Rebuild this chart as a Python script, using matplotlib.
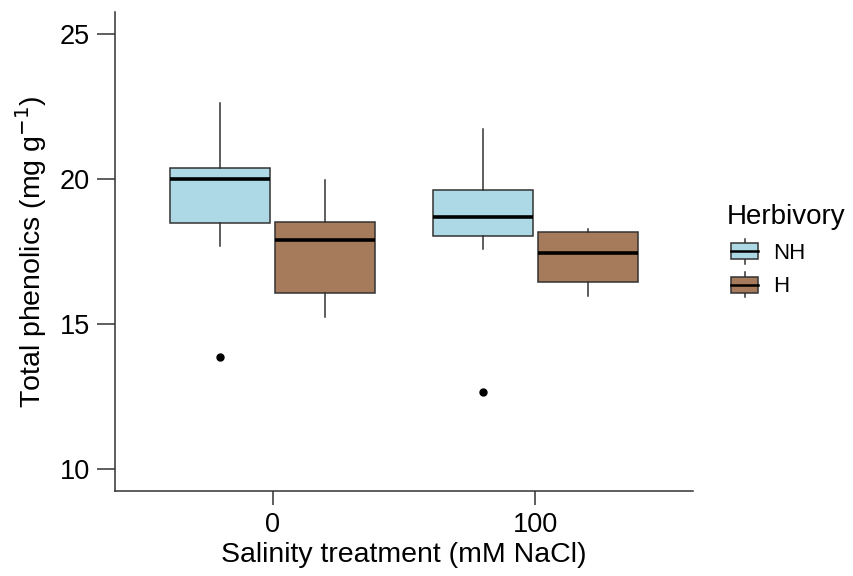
import matplotlib
matplotlib.use("Agg")
import matplotlib.pyplot as plt
from matplotlib.patches import Rectangle
from matplotlib.lines import Line2D
from matplotlib.legend_handler import HandlerBase

plt.rcParams['font.family'] = ['Liberation Sans', 'DejaVu Sans']

# data (mg g-1)
salinity = ['0', '100']
groups = ['NH', 'H']
colors = {'NH': '#ADD8E6', 'H': '#A67B5B'}

nh_whislo = [17.70, 17.59]
nh_q1 = [18.47, 18.02]
nh_med = [20.00, 18.70]
nh_q3 = [20.39, 19.63]
nh_whishi = [22.62, 21.72]
nh_fliers = [[13.87], [12.67]]

h_whislo = [15.24, 15.98]
h_q1 = [16.07, 16.46]
h_med = [17.90, 17.44]
h_q3 = [18.52, 18.16]
h_whishi = [19.97, 18.29]
h_fliers = [[], []]

edge = '#333333'


def make_stats(whislo, q1, med, q3, whishi, fliers):
    out = []
    for i in range(len(med)):
        out.append(dict(whislo=whislo[i], q1=q1[i], med=med[i], q3=q3[i],
                        whishi=whishi[i], fliers=fliers[i]))
    return out


class BoxHandler(HandlerBase):
    # small boxplot glyph for the legend keys
    def create_artists(self, legend, orig_handle, xdescent, ydescent,
                       width, height, fontsize, trans):
        fc = orig_handle.get_facecolor()
        bw = width * 0.78
        x0 = xdescent + (width - bw) / 2
        bh = height * 0.66
        y0 = -ydescent + (height - bh) / 2
        wl = height * 0.17
        cx = x0 + bw / 2
        art = []
        art.append(Line2D([cx, cx], [y0 - wl, y0], color=edge, lw=1.1, transform=trans))
        art.append(Line2D([cx, cx], [y0 + bh, y0 + bh + wl], color=edge, lw=1.1, transform=trans))
        art.append(Rectangle((x0, y0), bw, bh, facecolor=fc, edgecolor=edge, lw=1.1, transform=trans))
        art.append(Line2D([x0, x0 + bw], [y0 + bh / 2, y0 + bh / 2], color='black', lw=1.8, transform=trans))
        return art


fig = plt.figure(figsize=(8.54, 5.76), dpi=100)
ax = fig.add_axes([0.1347, 0.1476, 0.8115 - 0.1347, 0.979 - 0.1476])

base = [1, 2]
offsets = {'NH': -0.2, 'H': 0.2}
stats = {'NH': make_stats(nh_whislo, nh_q1, nh_med, nh_q3, nh_whishi, nh_fliers),
         'H': make_stats(h_whislo, h_q1, h_med, h_q3, h_whishi, h_fliers)}

for g in groups:
    pos = [b + offsets[g] for b in base]
    ax.bxp(stats[g], positions=pos, widths=0.38, patch_artist=True,
           showcaps=False,
           boxprops=dict(facecolor=colors[g], edgecolor=edge, linewidth=1.1),
           whiskerprops=dict(color=edge, linewidth=1.1),
           medianprops=dict(color='black', linewidth=2.6),
           flierprops=dict(marker='o', markerfacecolor='black', markeredgecolor='black',
                           markersize=5))

ax.set_xlim(0.4, 2.6)
ax.set_ylim(9.24, 25.76)
ax.set_xticks(base)
ax.set_xticklabels(salinity)
ax.set_yticks([10, 15, 20, 25])

for s in ['top', 'right']:
    ax.spines[s].set_visible(False)
for s in ['left', 'bottom']:
    ax.spines[s].set_color(edge)
    ax.spines[s].set_linewidth(1.1)

ax.tick_params(axis='y', length=13, width=1.1, color=edge, labelsize=19.5, pad=5)
ax.tick_params(axis='x', length=10, width=1.1, color=edge, labelsize=19.5, pad=5)

ax.set_xlabel('Salinity treatment (mM NaCl)', fontsize=20.5, labelpad=3)
ax.set_ylabel('Total phenolics (mg g$^{-1}$)', fontsize=20.5, labelpad=8)

handles = [Rectangle((0, 0), 1, 1, facecolor=colors[g]) for g in groups]
leg = fig.legend(handles, groups, title='Herbivory', loc='center left',
                 bbox_to_anchor=(0.851, 0.565), frameon=False, fontsize=16,
                 title_fontsize=20, handler_map={Rectangle: BoxHandler()},
                 handlelength=1.6, handleheight=1.35, handletextpad=0.5,
                 labelspacing=0.4, borderpad=0, borderaxespad=0)
leg._legend_box.align = 'left'

fig.savefig('out.png', dpi=100)
